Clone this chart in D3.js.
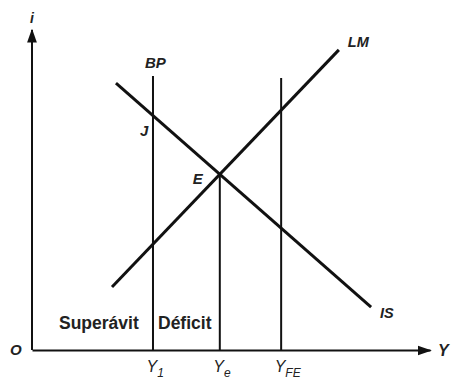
<!DOCTYPE html>
<html>
<head>
<meta charset="utf-8">
<script src="https://cdn.jsdelivr.net/npm/d3@7"></script>
<style>
  body { margin: 0; background: #fff; }
  svg { display: block; font-family: "Liberation Sans", Arial, sans-serif; }
  .curve { fill: none; stroke: #111; stroke-width: 3; }
  .vline { stroke: #111; stroke-width: 2; }
  .lbl { font-style: italic; font-weight: bold; fill: #222; }
  .region { font-weight: bold; fill: #222; font-size: 17.5px; }
</style>
</head>
<body>
<div class="chart"></div>
<script>
const WIDTH = 451;
const HEIGHT = 380;

// axis origin and extent, in pixels
const X0 = 32, X1 = 430;
const Y0 = 350, Y1 = 30;

// output levels on the Y axis
var outputNames = ['1', 'e', 'FE'];
var outputValues = [30.4, 47.3, 62.6];

// vertical line tops (interest level)
var verticalTops = [85.6, null, 85];

// IS and LM curve end points
var isCurve = [{x: 21.1, y: 83.4}, {x: 85.2, y: 13.4}];
var lmCurve = [{x: 20.1, y: 19.7}, {x: 77.1, y: 93.8}];

var x = d3.scaleLinear().domain([0, 100]).range([X0, X1]);
var y = d3.scaleLinear().domain([0, 100]).range([Y0, Y1]);

// equilibrium E = intersection of IS and LM
function intersect(a, b) {
    var m1 = (a[1].y - a[0].y) / (a[1].x - a[0].x);
    var m2 = (b[1].y - b[0].y) / (b[1].x - b[0].x);
    var xi = (b[0].y - a[0].y + m1 * a[0].x - m2 * b[0].x) / (m1 - m2);
    return {x: xi, y: a[0].y + m1 * (xi - a[0].x)};
}
var E = intersect(isCurve, lmCurve);
outputValues[1] = E.x;
verticalTops[1] = E.y;

function isAt(xv) {
    var m = (isCurve[1].y - isCurve[0].y) / (isCurve[1].x - isCurve[0].x);
    return isCurve[0].y + m * (xv - isCurve[0].x);
}

var svg = d3.select('.chart').append('svg')
    .attr('width', WIDTH)
    .attr('height', HEIGHT);

var defs = svg.append('defs');
defs.append('marker')
    .attr('id', 'arrow')
    .attr('viewBox', '0 0 10 10')
    .attr('refX', 9).attr('refY', 5)
    .attr('markerWidth', 7).attr('markerHeight', 7)
    .attr('markerUnits', 'strokeWidth')
    .attr('orient', 'auto')
    .append('path')
    .attr('d', 'M0,1.5 L10,5 L0,8.5 Z')
    .attr('fill', '#111');

// axes
var xAxis = d3.axisBottom(x).tickValues(outputValues).tickSize(0).tickSizeOuter(0).tickFormat('');
var yAxis = d3.axisLeft(y).tickValues([]).tickSizeOuter(0);

var xAxisG = svg.append('g').attr('transform', 'translate(0,' + Y0 + ')').call(xAxis);
var yAxisG = svg.append('g').attr('transform', 'translate(' + X0 + ',0)').call(yAxis);

xAxisG.select('.domain').attr('stroke', '#111').attr('stroke-width', 2).attr('marker-end', 'url(#arrow)');
yAxisG.select('.domain').attr('stroke', '#111').attr('stroke-width', 2)
    .attr('d', 'M0,' + Y0 + 'V' + Y1).attr('marker-end', 'url(#arrow)');

// tick labels Y_1, Y_e, Y_FE
xAxisG.selectAll('.tick text').each(function (d, i) {
    var t = d3.select(this)
        .attr('y', 22).attr('dy', 0)
        .attr('font-size', 16).attr('font-style', 'italic')
        .attr('fill', '#222').attr('text-anchor', 'start')
        .attr('x', -7);
    t.append('tspan').text('Y');
    t.append('tspan').attr('font-size', 12).attr('dy', 5).text(outputNames[i]);
});

// vertical lines BP, Ye, YFE
svg.append('g').selectAll('line').data(outputValues).enter().append('line')
    .attr('class', 'vline')
    .attr('x1', function (d) { return x(d); })
    .attr('x2', function (d) { return x(d); })
    .attr('y1', y(0))
    .attr('y2', function (d, i) { return y(verticalTops[i]); });

// IS and LM
var line = d3.line()
    .x(function (d) { return x(d.x); })
    .y(function (d) { return y(d.y); });

svg.append('path').attr('class', 'curve').attr('d', line(isCurve));
svg.append('path').attr('class', 'curve').attr('d', line(lmCurve));

// labels
function label(text, px, py, size, cls) {
    return svg.append('text').attr('class', cls || 'lbl')
        .attr('x', px).attr('y', py).attr('font-size', size).text(text);
}
label('i', x(0) - 2, 23, 14);
label('O', 10, Y0 + 5, 15);
label('Y', 438, Y0 + 6, 16);
label('BP', x(outputValues[0]) - 8, y(verticalTops[0]) - 8, 15);
label('J', x(outputValues[0]) - 13, y(isAt(outputValues[0])) + 20, 15);
label('E', x(E.x) - 27, y(E.y) + 10, 15);
label('LM', x(lmCurve[1].x) + 9, y(lmCurve[1].y) - 3, 14.5);
label('IS', x(isCurve[1].x) + 9, y(isCurve[1].y) + 11, 14.5);
label('Superávit', 59, 329, null, 'region');
label('Déficit', 158, 329, null, 'region');
</script>
</body>
</html>
